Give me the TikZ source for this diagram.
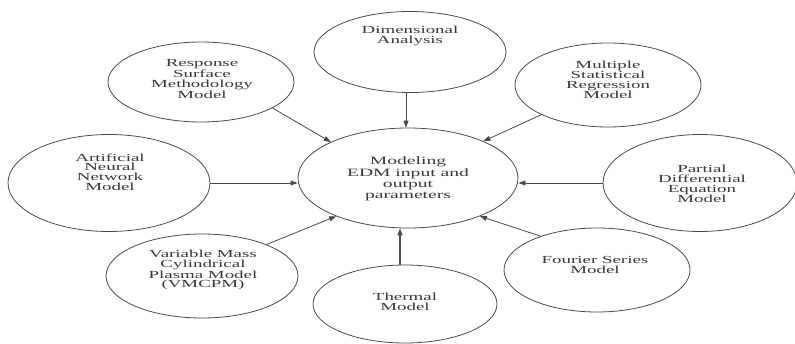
\documentclass[tikz,border=0pt]{standalone}
\usepackage{fontspec}
\newfontfamily\widefont[FakeStretch=1.75]{Liberation Serif}
\usetikzlibrary{shapes.geometric,arrows.meta}
\definecolor{linec}{HTML}{4A4A4A}
\definecolor{textc}{HTML}{383838}
\begin{document}
\begin{tikzpicture}[x=1pt,y=-1pt,
  oval/.style={ellipse,draw=linec,line width=0.8pt,inner sep=0pt,fill=white},
  lbl/.style={align=center,inner sep=0pt,text=textc,font={\widefont\fontsize{10.8pt}{9.8pt}\selectfont}},
  biglbl/.style={align=center,inner sep=0pt,text=textc,font={\widefont\fontsize{11.2pt}{11.3pt}\selectfont}},
  arr/.style={draw=linec,line width=0.8pt,-{Triangle[length=7pt,width=5pt]}}]
\useasboundingbox[fill=white] (0,0) rectangle (795,343);
% ellipses
\node[oval,minimum width=220pt,minimum height=100pt] (center) at (408,178) {};
\node[oval,minimum width=192pt,minimum height=81pt] (dim) at (410,52) {};
\node[oval,minimum width=186pt,minimum height=80pt] (rsm) at (201,82) {};
\node[oval,minimum width=202pt,minimum height=97pt] (ann) at (109,183) {};
\node[oval,minimum width=192pt,minimum height=84pt] (vmc) at (202,276) {};
\node[oval,minimum width=184pt,minimum height=78pt] (thm) at (405,304) {};
\node[oval,minimum width=186pt,minimum height=84pt] (fou) at (597,270) {};
\node[oval,minimum width=194pt,minimum height=97pt] (pde) at (700,183) {};
\node[oval,minimum width=186pt,minimum height=84pt] (msr) at (608,85) {};
% texts
\node[biglbl] (tcenter) at (408,179) {Modeling\\EDM input and\\output\\parameters};
\node[lbl] (tdim) at (410,36) {Dimensional\\Analysis};
\node[lbl] (trsm) at (202,79) {Response\\Surface\\Methodology\\Model};
\node[lbl] (tann) at (110,172) {Artificial\\Neural\\Network\\Model};
\node[lbl] (tvmc) at (203,270) {Variable Mass\\Cylindrical\\Plasma Model\\(VMCPM)};
\node[lbl] (tthm) at (405,302) {Thermal\\Model};
\node[lbl] (tfou) at (595,265) {Fourier Series\\Model};
\node[lbl] (tpde) at (702,184) {Partial\\Differential\\Equation\\Model};
\node[lbl] (tmsr) at (608,80) {Multiple\\Statistical\\Regression\\Model};
% connectors
\draw[arr] ([xshift=-4pt]dim.south) -- ([xshift=-4pt]dim.south |- center.north);
\draw[arr,line width=1.4pt] ([xshift=-5pt]thm.north) -- ([xshift=-5pt]thm.north |- center.south);
\draw[arr] (rsm.340) -- (center.155);
\draw[arr] (ann.east) -- (ann.east -| center.west);
\draw[arr] (vmc.26) -- (center.208);
\draw[arr] (msr.204) -- (center.26);
\draw[arr] (pde.west) -- (pde.west -| center.east);
\draw[arr] (fou.149) -- (center.332);
\end{tikzpicture}
\end{document}
